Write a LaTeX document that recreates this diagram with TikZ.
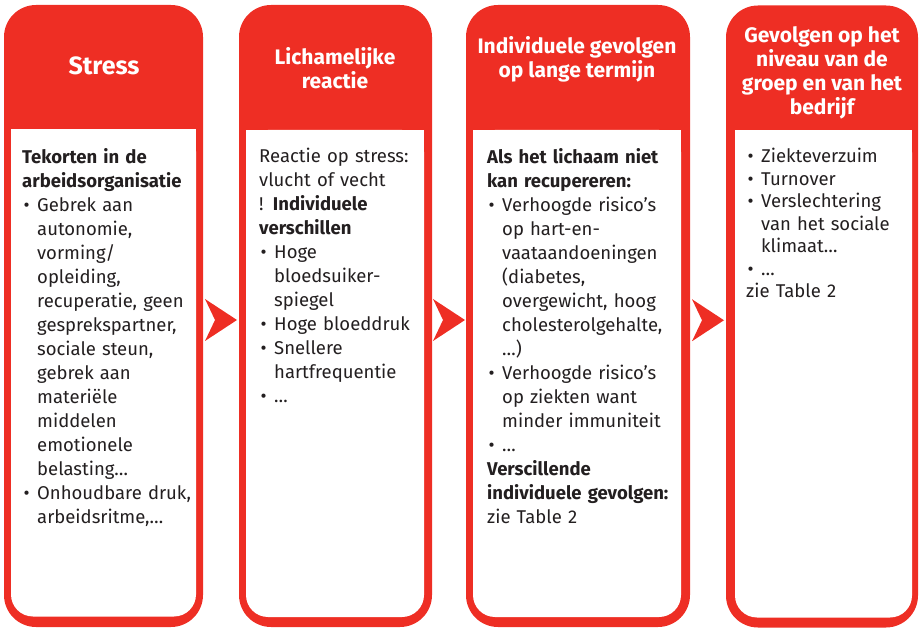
\documentclass[tikz,border=0pt]{standalone}
\usepackage{fontspec}
\setmainfont{Fira Sans}
\usetikzlibrary{calc}
\setlength{\parindent}{0pt}
\definecolor{boxred}{RGB}{238,46,36}
\definecolor{textgray}{RGB}{35,31,32}
\tikzstyle{outerbox} = [rectangle, rounded corners=32pt, fill=boxred, inner sep=0pt, minimum height=622pt]
\tikzstyle{innerbox} = [rectangle, rounded corners=22pt, fill=white, inner sep=0pt, minimum height=487pt]
\tikzstyle{title} = [text=white, align=center, font=\bfseries\fontsize{21}{24}\selectfont]
\tikzstyle{body} = [anchor=north west, text width=210pt, align=left, inner sep=0pt, text=textgray, font=\fontsize{18.5}{24}\selectfont]
\newcommand{\bul}{\par\noindent\hangindent=15pt\hangafter=1\makebox[15pt][l]{\hspace{1.5pt}\textbullet}}
\newcommand{\plainline}{\par\noindent}
\newcommand{\chevron}[1]{\fill[boxred] ($(#1)+(-16,21)$) -- ($(#1)+(16,0)$) -- ($(#1)+(-16,-21)$) -- ($(#1)+(-6,0)$) -- cycle;}

\begin{document}
\begin{tikzpicture}[x=1pt, y=1pt]
      \useasboundingbox (0,0) rectangle (919,-628);

      \node (stress) [outerbox, minimum width=199pt] at (103.5,-316) {};
      \node (reaction) [outerbox, minimum width=193pt] at (335.5,-316) {};
      \node (longterm) [outerbox, minimum width=224pt] at (578,-316) {};
      \node (company) [outerbox, minimum width=192pt] at (822,-316.5) {};

      \node (stressin) [innerbox, minimum width=185pt] at (103.5,-373) {};
      \node (reactionin) [innerbox, minimum width=178pt] at (335,-373.5) {};
      \node (longtermin) [innerbox, minimum width=208pt] at (577,-373.5) {};
      \node (companyin) [innerbox, minimum width=177pt] at (823.5,-374) {};
      \foreach \b in {stressin, reactionin, longtermin, companyin}
        \fill[white] (\b.north west) rectangle ($(\b.north east)+(0,-30)$);

      \node (stresstitle) [title, font=\bfseries\fontsize{25}{28}\selectfont] at (104,-66) {Stress};
      \node (reactiontitle) [title] at (335,-68) {Lichamelijke\\reactie};
      \node (longtermtitle) [title] at (577,-59) {Individuele gevolgen\\op lange termijn};
      \node (companytitle) [title] at (822,-73) {Gevolgen op het\\niveau van de\\groep en van het\\bedrijf};

      \node (stressbody) [body] at (22,-148) {\textbf{Tekorten in de}\newline\textbf{arbeidsorganisatie}
        \bul Gebrek aan\newline autonomie,\newline vorming/\newline opleiding,\newline recuperatie, geen\newline gesprekspartner,\newline sociale steun,\newline gebrek aan\newline materiële\newline middelen\newline emotionele\newline belasting…
        \bul Onhoudbare druk,\newline arbeidsritme,…\par};
      \node (reactionbody) [body] at (259,-148) {Reactie op stress:\newline vlucht of vecht\newline ! \textbf{Individuele}\newline\textbf{verschillen}
        \bul Hoge\newline bloedsuiker-\newline spiegel
        \bul Hoge bloeddruk
        \bul Snellere\newline hartfrequentie
        \bul …\par};
      \node (longtermbody) [body] at (487,-148) {\textbf{Als het lichaam niet}\newline\textbf{kan recupereren:}
        \bul Verhoogde risico’s\newline op hart-en-\newline vaataandoeningen\newline (diabetes,\newline overgewicht, hoog\newline cholesterolgehalte,\newline …)
        \bul Verhoogde risico’s\newline op ziekten want\newline minder immuniteit
        \bul …
        \plainline\textbf{Verscillende}\newline\textbf{individuele gevolgen:}\newline zie Table 2\par};
      \node (companybody) [body, font=\fontsize{18.5}{22.5}\selectfont] at (746,-140) {\bul Ziekteverzuim
        \bul Turnover
        \bul Verslechtering\newline van het sociale\newline klimaat…
        \bul …
        \plainline zie Table 2\par};

      \coordinate (arrowa) at ($(stress.east)!0.5!(reaction.west)+(0,-4)$);
      \coordinate (arrowb) at ($(reaction.east)!0.5!(longterm.west)+(0,-4)$);
      \coordinate (arrowc) at ($(longterm.east)!0.5!(company.west)+(0,-4)$);
      \chevron{arrowa}
      \chevron{arrowb}
      \chevron{arrowc}
\end{tikzpicture}
\end{document}
